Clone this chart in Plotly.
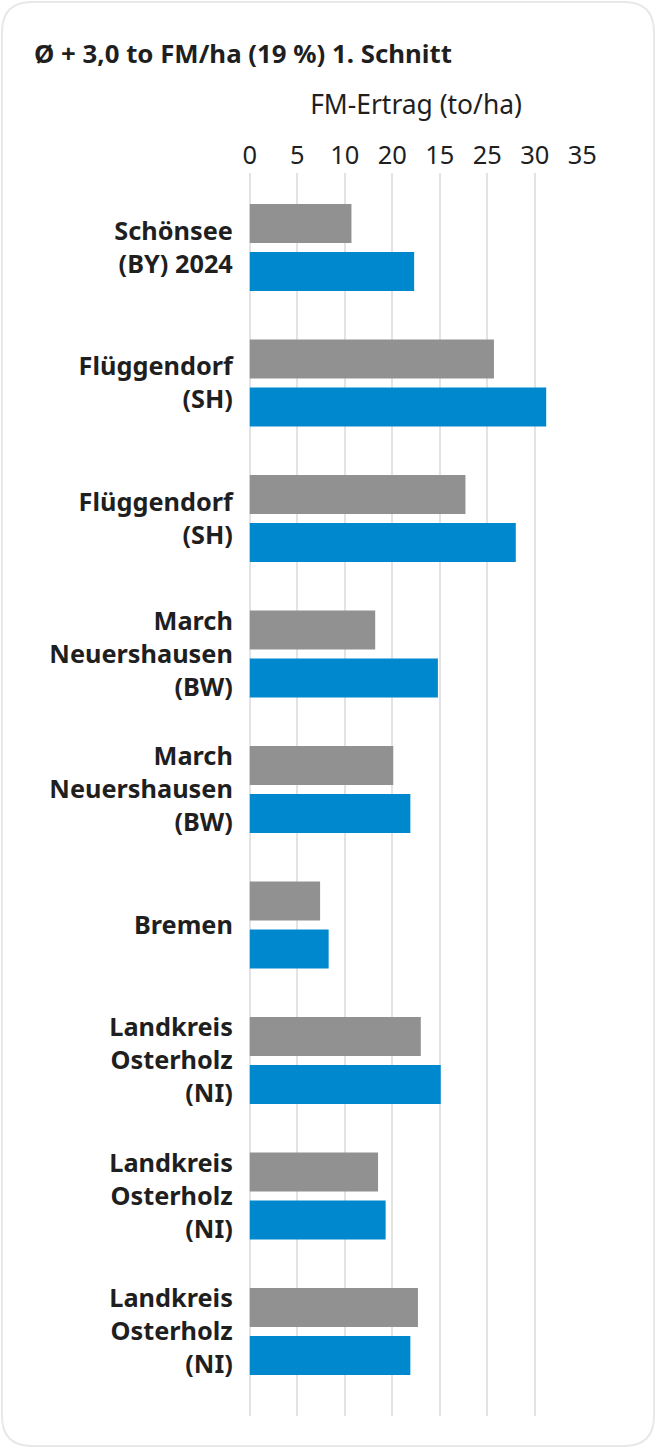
import plotly.graph_objects as go

# ---- data ----
categories = [
    "Schönsee<br>(BY) 2024",
    "Flüggendorf<br>(SH)",
    "Flüggendorf<br>(SH)",
    "March<br>Neuershausen<br>(BW)",
    "March<br>Neuershausen<br>(BW)",
    "Bremen",
    "Landkreis<br>Osterholz<br>(NI)",
    "Landkreis<br>Osterholz<br>(NI)",
    "Landkreis<br>Osterholz<br>(NI)",
]
gray_values = [10.7, 25.7, 22.7, 13.2, 15.1, 7.4, 18.0, 13.5, 17.7]
blue_values = [17.3, 31.2, 28.0, 19.8, 16.9, 8.3, 20.1, 14.3, 16.9]
x_tick_values = [0, 5, 10, 15, 20, 25, 30, 35]
x_tick_labels = ["0", "5", "10", "20", "15", "25", "30", "35"]
title_text = "Ø + 3,0 to FM/ha (19 %) 1. Schnitt"
x_axis_title = "FM-Ertrag (to/ha)"

W, H = 656, 1448
FONT = "Noto Sans"
TEXT = "#1f1f1f"
GRAY = "#919191"
BLUE = "#0088cf"
GRID = "#e3e3e3"

positions = list(range(len(categories)))

fig = go.Figure()
fig.add_trace(go.Bar(y=positions, x=gray_values, orientation="h",
                     marker=dict(color=GRAY, line=dict(width=0)), name="Kontrolle"))
fig.add_trace(go.Bar(y=positions, x=blue_values, orientation="h",
                     marker=dict(color=BLUE, line=dict(width=0)), name="Variante"))

# plot area in pixels
px_left, px_right = 249.8, 582.3
px_top, px_bottom = 173, 1416
pad = 0.1 * (px_right - px_left) / 35
x_dom = [(px_left - pad) / W, (px_right + pad) / W]
y_dom = [1 - px_bottom / H, 1 - px_top / H]

# rounded card
def P(x, y):
    return f"{x / W:.5f},{1 - y / H:.5f}"

x0, y0, x1, y1, r = 2, 2, 654, 1446, 30
card = (f"M {P(x0 + r, y0)} L {P(x1 - r, y0)} Q {P(x1, y0)} {P(x1, y0 + r)} "
        f"L {P(x1, y1 - r)} Q {P(x1, y1)} {P(x1 - r, y1)} "
        f"L {P(x0 + r, y1)} Q {P(x0, y1)} {P(x0, y1 - r)} "
        f"L {P(x0, y0 + r)} Q {P(x0, y0)} {P(x0 + r, y0)} Z")

fig.update_layout(
    width=W, height=H,
    margin=dict(l=0, r=0, t=0, b=0),
    paper_bgcolor="white", plot_bgcolor="rgba(0,0,0,0)",
    showlegend=False,
    barmode="group", bargap=0.2915, bargroupgap=0.1875,
    font=dict(family=FONT, color=TEXT),
    shapes=[dict(type="path", path=card, xref="paper", yref="paper",
                 line=dict(color="#e8e8e8", width=2), fillcolor="rgba(0,0,0,0)",
                 layer="below")],
    annotations=[dict(text=f"<b>{title_text}</b>", x=32 / W, y=1 - 53 / H,
                      xref="paper", yref="paper", xanchor="left", yanchor="middle",
                      showarrow=False, font=dict(size=25.8, family=FONT, color=TEXT))],
)
fig.update_xaxes(
    side="top", domain=x_dom, range=[-0.1, 35.1],
    tickvals=x_tick_values, ticktext=x_tick_labels,
    tickfont=dict(size=25.5, family=FONT, color=TEXT),
    ticks="", ticklabelstandoff=3,
    showgrid=True, gridcolor=GRID, gridwidth=2,
    zeroline=True, zerolinecolor=GRID, zerolinewidth=2,
    showline=False, automargin=False, fixedrange=True,
    title=dict(text=x_axis_title, font=dict(size=26.4, family=FONT, color=TEXT), standoff=14),
)
fig.update_yaxes(
    domain=y_dom, range=[8.624, -0.55],
    tickvals=positions, ticktext=[f"<b>{c}</b>" for c in categories],
    tickfont=dict(size=25.3, family=FONT, color=TEXT),
    ticks="", ticklabelstandoff=15,
    showgrid=False, zeroline=False, showline=False, automargin=False, fixedrange=True,
)

fig.write_html("out.html")
